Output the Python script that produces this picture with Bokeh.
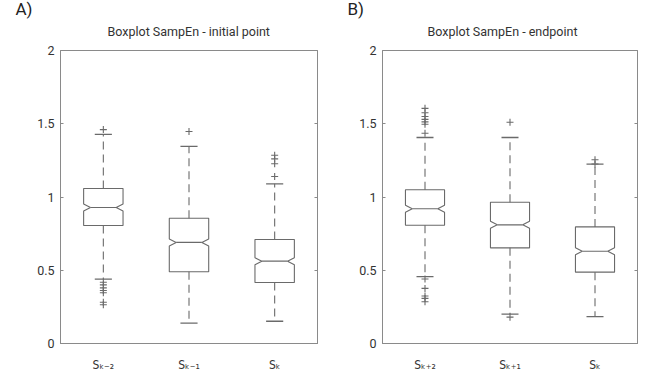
import numpy as np
from bokeh.plotting import figure
from bokeh.layouts import row
from bokeh.models import LinearAxis, FixedTicker, Title, Range1d
from bokeh.embed import file_html
from bokeh.resources import INLINE

# ---------------- data ----------------
panel_letters = ["A)", "B)"]
titles = ["Boxplot SampEn  - initial point", "Boxplot SampEn  - endpoint"]

cats_a = ["Sₖ₋₂", "Sₖ₋₁", "Sₖ"]
q1_a = [0.805, 0.49, 0.416]
med_a = [0.928, 0.69, 0.562]
q3_a = [1.058, 0.855, 0.71]
lo_a = [0.44, 0.139, 0.152]
hi_a = [1.427, 1.345, 1.09]
out_idx_a = [1, 1, 1, 1, 1, 1, 1, 1, 2, 3, 3, 3, 3]
out_val_a = [1.46, 0.418, 0.40, 0.38, 0.362, 0.346, 0.282, 0.265, 1.447, 1.14, 1.227, 1.26, 1.285]

cats_b = ["Sₖ₊₂", "Sₖ₊₁", "Sₖ"]
q1_b = [0.807, 0.653, 0.487]
med_b = [0.92, 0.81, 0.63]
q3_b = [1.05, 0.964, 0.796]
lo_b = [0.456, 0.2, 0.184]
hi_b = [1.406, 1.406, 1.224]
out_idx_b = [1, 1, 1, 1, 1, 1, 1, 1, 1, 1, 1, 1, 2, 2, 3, 3]
out_val_b = [1.435, 1.497, 1.513, 1.53, 1.55, 1.575, 1.605, 0.44, 0.376, 0.324, 0.308, 0.285,
             1.51, 0.18, 1.254, 1.225]

y_ticks = [0, 0.5, 1, 1.5, 2]
y_tick_labels = ["0", "0.5", "1", "1.5", "2"]

FONT = "Roboto"
LINE = "#6a6a6a"
AX = "#8a8a8a"

BOX_HW = 0.23
NOTCH_IN = 0.15
NOTCH_H = 0.024
CAP_HW = 0.1


def make_panel(letter, title, cats, q1, med, q3, lo, hi, oidx, oval,
               left, right, top, fw, fh, letter_offset, title_offset):
    p = figure(frame_width=fw, frame_height=fh, output_backend="svg",
               toolbar_location=None, x_range=Range1d(0.5, 3.5), y_range=Range1d(0, 2),
               min_border_left=left, min_border_right=right, min_border_top=top,
               min_border_bottom=22, background_fill_color="white",
               border_fill_color="white")
    p.grid.visible = False
    p.outline_line_color = AX
    p.outline_line_width = 1

    # outer title: panel letter
    p.title.text = letter
    p.title.align = "left"
    p.title.offset = letter_offset
    p.title.text_font = FONT
    p.title.text_font_size = "17px"
    p.title.text_font_style = "normal"
    p.title.text_color = "#222222"
    p.title.standoff = -17

    # inner title: chart title
    p.add_layout(Title(text=title, align="left", offset=title_offset, text_font=FONT,
                       text_font_size="12.5px", text_font_style="normal",
                       text_color="#333333", standoff=23), "above")

    n = len(cats)
    xs_c = np.arange(1, n + 1, dtype=float)
    q1 = np.array(q1); med = np.array(med); q3 = np.array(q3)
    lo = np.array(lo); hi = np.array(hi)

    pxs, pys = [], []
    for c, a, m, b in zip(xs_c, q1, med, q3):
        pxs.append([c - BOX_HW, c + BOX_HW, c + BOX_HW, c + NOTCH_IN, c + BOX_HW, c + BOX_HW,
                    c - BOX_HW, c - BOX_HW, c - NOTCH_IN, c - BOX_HW])
        pys.append([a, a, m - NOTCH_H, m, m + NOTCH_H, b, b, m + NOTCH_H, m, m - NOTCH_H])
    p.patches(pxs, pys, fill_color="white", line_color=LINE, line_width=1.1)
    p.segment(xs_c - NOTCH_IN, med, xs_c + NOTCH_IN, med, line_color=LINE, line_width=1.1)
    p.segment(xs_c, q3, xs_c, hi, line_color=LINE, line_width=1.1, line_dash="8 5")
    p.segment(xs_c, q1, xs_c, lo, line_color=LINE, line_width=1.1, line_dash="8 5")
    p.segment(xs_c - CAP_HW, hi, xs_c + CAP_HW, hi, line_color=LINE, line_width=1.3)
    p.segment(xs_c - CAP_HW, lo, xs_c + CAP_HW, lo, line_color=LINE, line_width=1.3)
    p.scatter(np.array(oidx, dtype=float), oval, marker="cross", size=7,
              line_color=LINE, line_width=1.1)

    p.yaxis.ticker = FixedTicker(ticks=y_ticks)
    p.yaxis.major_label_overrides = {t: l for t, l in zip(y_ticks, y_tick_labels)}
    p.xaxis.ticker = FixedTicker(ticks=list(xs_c))
    overrides = {float(i + 1): c for i, c in enumerate(cats)}
    overrides.update({i + 1: c for i, c in enumerate(cats)})
    p.xaxis.major_label_overrides = overrides
    for ax in (p.xaxis[0], p.yaxis[0]):
        ax.axis_line_color = AX
        ax.major_label_text_font = FONT
        ax.major_label_text_font_size = "12.5px"
        ax.major_label_text_color = "#333333"
        ax.minor_tick_line_color = None
    p.yaxis.major_tick_in = 3
    p.yaxis.major_tick_out = 0
    p.yaxis.major_tick_line_color = AX
    p.yaxis.major_label_standoff = 6
    p.xaxis.major_tick_line_color = None
    p.xaxis.major_label_standoff = 8
    p.xaxis.major_label_text_font = "DejaVu Sans Condensed, DejaVu Sans"
    p.xaxis.major_label_text_font_size = "12px"

    ra = LinearAxis(ticker=FixedTicker(ticks=y_ticks),
                    major_label_overrides={t: "" for t in y_ticks})
    ra.axis_line_color = AX
    ra.major_tick_in = 3
    ra.major_tick_out = 0
    ra.major_tick_line_color = AX
    ra.minor_tick_line_color = None
    ra.major_label_standoff = 0
    p.add_layout(ra, "right")
    return p


pa = make_panel(panel_letters[0], titles[0], cats_a, q1_a, med_a, q3_a, lo_a, hi_a,
                out_idx_a, out_val_a, left=60, right=3, top=50, fw=257, fh=293,
                letter_offset=-45, title_offset=47)
pb = make_panel(panel_letters[1], titles[1], cats_b, q1_b, med_b, q3_b, lo_b, hi_b,
                out_idx_b, out_val_b, left=62, right=3, top=48, fw=255, fh=293,
                letter_offset=-35, title_offset=45)

layout = row(pa, pb)
open("out.html", "w").write(file_html(layout, INLINE))
